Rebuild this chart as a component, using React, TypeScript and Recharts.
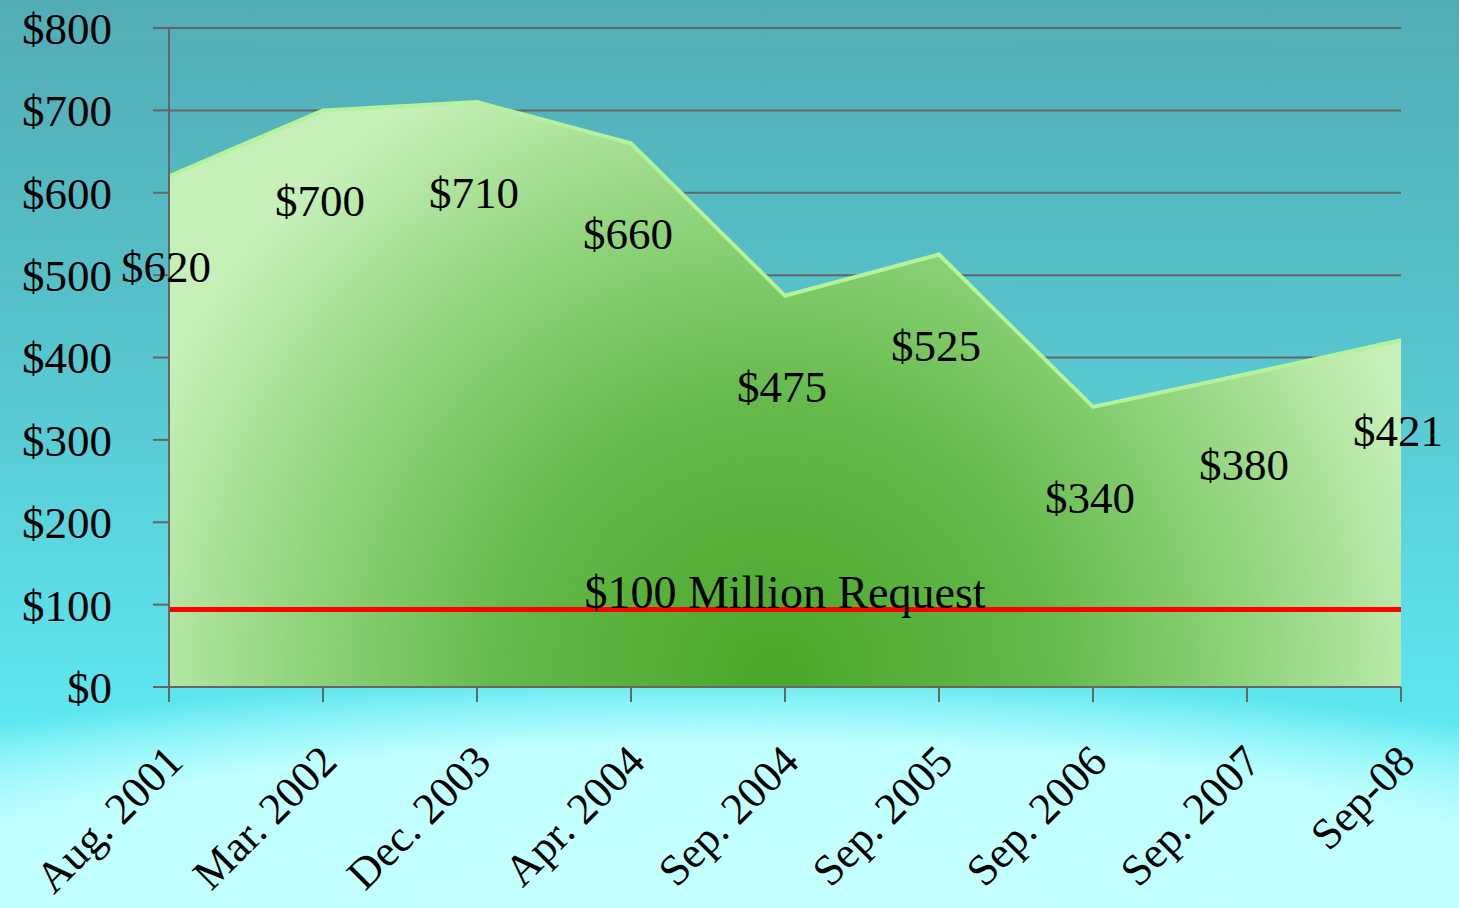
import React from "react";
import {
  AreaChart,
  Area,
  XAxis,
  YAxis,
  CartesianGrid,
  ReferenceLine,
  LabelList,
} from "recharts";

const dates = [
  "Aug. 2001",
  "Mar. 2002",
  "Dec. 2003",
  "Apr. 2004",
  "Sep. 2004",
  "Sep. 2005",
  "Sep. 2006",
  "Sep. 2007",
  "Sep-08",
];
const amounts = [620, 700, 710, 660, 475, 525, 340, 380, 421];
const yTicks = [0, 100, 200, 300, 400, 500, 600, 700, 800];
const requestLevel = 94;
const requestLabel = "$100 Million Request";

const data = dates.map((date, i) => ({ date, amount: amounts[i] }));

const FONT = "'Liberation Serif', serif";

function DateTick(props: any) {
  const { x, y, payload } = props;
  const ax = x + 16;
  const ay = y + 60;
  return (
    <text
      x={ax}
      y={ay}
      transform={`rotate(-45, ${ax}, ${ay})`}
      textAnchor="end"
      fontFamily={FONT}
      fontSize={44}
      fill="#000"
    >
      {payload.value}
    </text>
  );
}

function ValueLabel(props: any) {
  const { x, y, value } = props;
  return (
    <text
      x={x - 3}
      y={y + 106}
      textAnchor="middle"
      fontFamily={FONT}
      fontSize={45}
      fill="#000"
    >
      ${value}
    </text>
  );
}

export default function App() {
  return (
    <div
      style={{
        position: "absolute",
        top: 0,
        left: 0,
        width: 1459,
        height: 908,
        overflow: "hidden",
        background:
          "radial-gradient(ellipse 80% 26% at 50% 100%, #c4ffff 0%, #c0ffff 70%, rgba(160,250,252,0.6) 88%, rgba(94,232,240,0) 100%), linear-gradient(180deg, #52acb5 0%, #56c2cb 35%, #5bd8e1 62%, #5ee8f0 80%, #8ef4f6 88%, #bcfefe 100%)",
      }}
    >
      <AreaChart
        width={1459}
        height={908}
        data={data}
        margin={{ top: 28, right: 58, bottom: 0, left: 0 }}
      >
        <defs>
          <radialGradient
            id="greenFill"
            gradientUnits="userSpaceOnUse"
            cx={775}
            cy={680}
            r={680}
          >
            <stop offset="0%" stopColor="#4aa72a" />
            <stop offset="40%" stopColor="#64b94a" />
            <stop offset="70%" stopColor="#90d47c" />
            <stop offset="100%" stopColor="#c6f0b8" />
          </radialGradient>
        </defs>
        <CartesianGrid vertical={false} stroke="#666" strokeWidth={2} />
        <XAxis
          dataKey="date"
          interval={0}
          padding={{ left: 0, right: 0 }}
          height={221}
          tick={<DateTick />}
          tickSize={15}
          axisLine={{ stroke: "#666", strokeWidth: 2 }}
          tickLine={{ stroke: "#666", strokeWidth: 2 }}
        />
        <YAxis
          domain={[0, 800]}
          ticks={yTicks}
          width={169}
          tickSize={16}
          tickMargin={41}
          tickFormatter={(v) => `$${v}`}
          tick={{ fontFamily: FONT, fontSize: 45, fill: "#000" }}
          axisLine={{ stroke: "#666", strokeWidth: 2 }}
          tickLine={{ stroke: "#666", strokeWidth: 2 }}
        />
        <Area
          type="linear"
          dataKey="amount"
          stroke="#b4f29c"
          strokeWidth={4}
          fill="url(#greenFill)"
          fillOpacity={1}
          isAnimationActive={false}
        >
          <LabelList dataKey="amount" content={<ValueLabel />} />
        </Area>
        <ReferenceLine
          y={requestLevel}
          stroke="#ff0000"
          strokeWidth={5}
          label={{
            value: requestLabel,
            position: "top",
            offset: 2,
            fontFamily: FONT,
            fontSize: 46,
            fill: "#000",
          }}
        />
      </AreaChart>
    </div>
  );
}
